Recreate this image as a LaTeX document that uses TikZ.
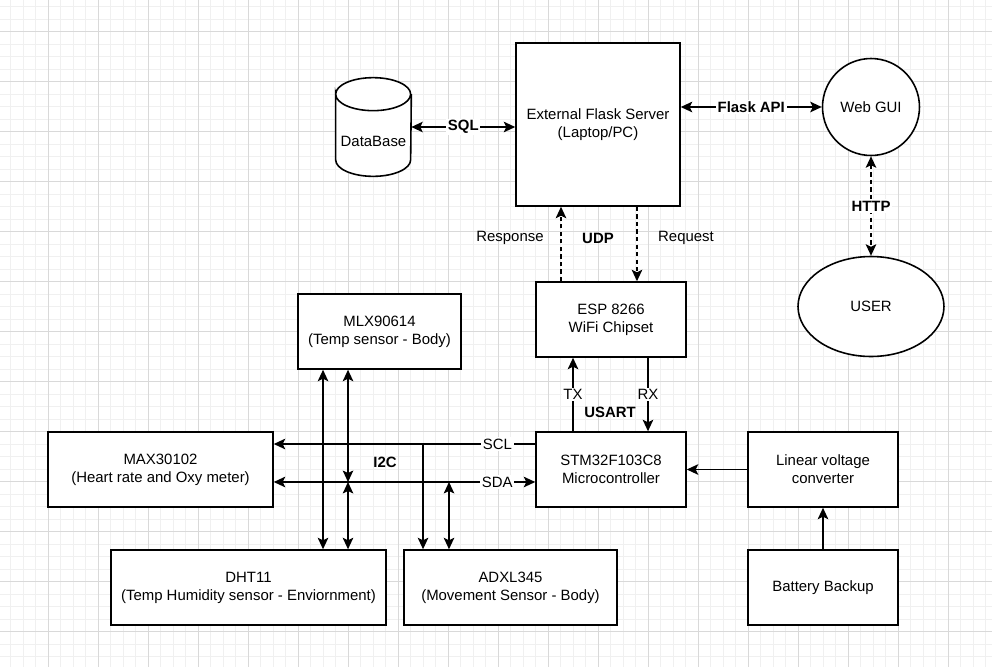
\documentclass[tikz,border=0pt]{standalone}
\usepackage{fontspec}
\setmainfont{Liberation Sans}
\usetikzlibrary{arrows.meta,shapes.geometric}

\begin{document}
\begin{tikzpicture}[x=0.02cm, y=-0.02cm, >={Stealth[length=6.5pt,width=6pt,inset=1.4pt]},
  font=\fontsize{8.5pt}{10.2pt}\selectfont,
  box/.style={draw, fill=white, line width=0.9pt, align=center, inner sep=0pt,
    minimum width=3cm, minimum height=1.5cm},
  link/.style={line width=0.8pt},
  dashline/.style={dash pattern=on 2.4pt off 1.9pt},
  bold/.style={font=\fontsize{8.5pt}{10.2pt}\selectfont\bfseries},
  tag/.style={fill=white, inner sep=1pt},
  lbl/.style={bold, fill=white, inner sep=1pt},
  minor/.style={black!6, line width=0.5pt},
  major/.style={black!15, line width=0.5pt}]

  \useasboundingbox (0,0) rectangle (992,667);
  % grid
  \foreach \g in {-1.7,10.8,...,995} \draw[minor] (\g,0) -- (\g,667);
  \foreach \g in {6.7,19.2,...,670} \draw[minor] (0,\g) -- (992,\g);
  \foreach \g in {48.3,98.3,...,995} \draw[major] (\g,0) -- (\g,667);
  \foreach \g in {31.7,81.7,...,670} \draw[major] (0,\g) -- (992,\g);

  % server side
  \node[box, minimum width=3.28cm, minimum height=3.26cm] (flask) at (598,124.5) {External Flask Server\\(Laptop/PC)};
  \node[circle, draw, fill=white, line width=0.9pt, minimum size=1.94cm, inner sep=0pt] (gui) at (871,107) {Web GUI};
  \node[ellipse, draw, fill=white, line width=0.9pt, minimum width=2.92cm, minimum height=2cm, inner sep=0pt] (user) at (871,306.5) {USER};
  \node[minimum width=1.5cm, minimum height=1.96cm, inner sep=0pt] (db) at (373.5,127) {};
  \fill[white] ([yshift=-0.33cm]db.north west) arc[start angle=180, end angle=0, x radius=0.75cm, y radius=0.33cm]
    -- ([yshift=0.33cm]db.south east) arc[start angle=0, end angle=-180, x radius=0.75cm, y radius=0.33cm] -- cycle;
  \draw[line width=0.9pt] ([yshift=-0.33cm]db.north west) arc[start angle=180, end angle=-180, x radius=0.75cm, y radius=0.33cm]
    -- ([yshift=0.33cm]db.south west) arc[start angle=180, end angle=360, x radius=0.75cm, y radius=0.33cm]
    -- ([yshift=-0.33cm]db.north east);
  \node (dbtext) at ([yshift=-0.29cm]db.center) {DataBase};

  % device side
  \node[box] (esp) at (611,319.5) {ESP 8266\\WiFi Chipset};
  \node[box] (stm) at (611,469.5) {STM32F103C8\\Microcontroller};
  \node[box, minimum width=3.26cm] (mlx) at (379.5,331.5) {MLX90614\\(Temp sensor - Body)};
  \node[box, minimum width=4.5cm] (max) at (160.5,469.5) {MAX30102\\(Heart rate and Oxy meter)};
  \node[box, minimum width=5.5cm] (dht) at (248.5,587.5) {DHT11\\(Temp Humidity sensor - Enviornment)};
  \node[box, minimum width=4.26cm] (adxl) at (510.5,587.5) {ADXL345\\(Movement Sensor - Body)};
  \node[box] (conv) at (823,469.5) {Linear voltage\\converter};
  \node[box] (bat) at (823,587.5) {Battery Backup};

  % links to the server
  \draw[link, <->] (db.east) -- (db.east -| flask.west) node[lbl, midway] {SQL};
  \draw[link, <->] (gui.west -| flask.east) -- (gui.west) node[lbl, midway] {Flask API};
  \draw[link, dashline, <->] (gui.south) -- (user.north) node[lbl, midway] {HTTP};

  % UDP
  \coordinate (up) at ([xshift=-1cm]esp.north);
  \coordinate (down) at ([xshift=0.52cm]esp.north);
  \draw[link, dashline, ->] (up) -- (up |- flask.south);
  \draw[link, dashline, ->] (down |- flask.south) -- (down);
  \node (resp) at (510,238) {Response};
  \node[bold] (udp) at (598,238) {UDP};
  \node (req) at (686,238) {Request};

  % USART
  \coordinate (tx) at ([xshift=-0.76cm]stm.north);
  \coordinate (rx) at ([xshift=0.74cm]esp.south);
  \draw[link, ->] (tx) -- (tx |- esp.south) node[tag, midway] {TX};
  \draw[link, ->] (rx) -- (rx |- stm.north) node[tag, midway] {RX};
  \node[bold] (usart) at (610,412) {USART};

  % power
  \draw[link, ->] (conv.west) -- (stm.east);
  \draw[link, ->] (bat.north) -- (conv.south);

  % I2C bus
  \coordinate (scl) at ([yshift=0.51cm]stm.west);
  \coordinate (sda) at ([yshift=-0.25cm]stm.west);
  \draw[link, ->] (scl) -- (scl -| max.east) node[tag, pos=0.145] {SCL};
  \draw[link, <->] (sda) -- (sda -| max.east) node[tag, pos=0.145] {SDA};
  \node[bold] (i2c) at (385,462) {I2C};

  \coordinate (ma) at ([xshift=-1.13cm]mlx.south);
  \coordinate (mb) at ([xshift=-0.63cm]mlx.south);
  \coordinate (aa) at ([xshift=-1.75cm]adxl.north);
  \coordinate (ab) at ([xshift=-1.23cm]adxl.north);
  \draw[link, <->] (ma) -- (ma |- dht.north);
  \draw[link, <->] (mb) -- (mb |- sda);
  \draw[link, <->] (mb |- sda) -- (mb |- dht.north);
  \draw[link, ->] (aa |- scl) -- (aa);
  \draw[link, <->] (ab |- sda) -- (ab);

\end{tikzpicture}
\end{document}
